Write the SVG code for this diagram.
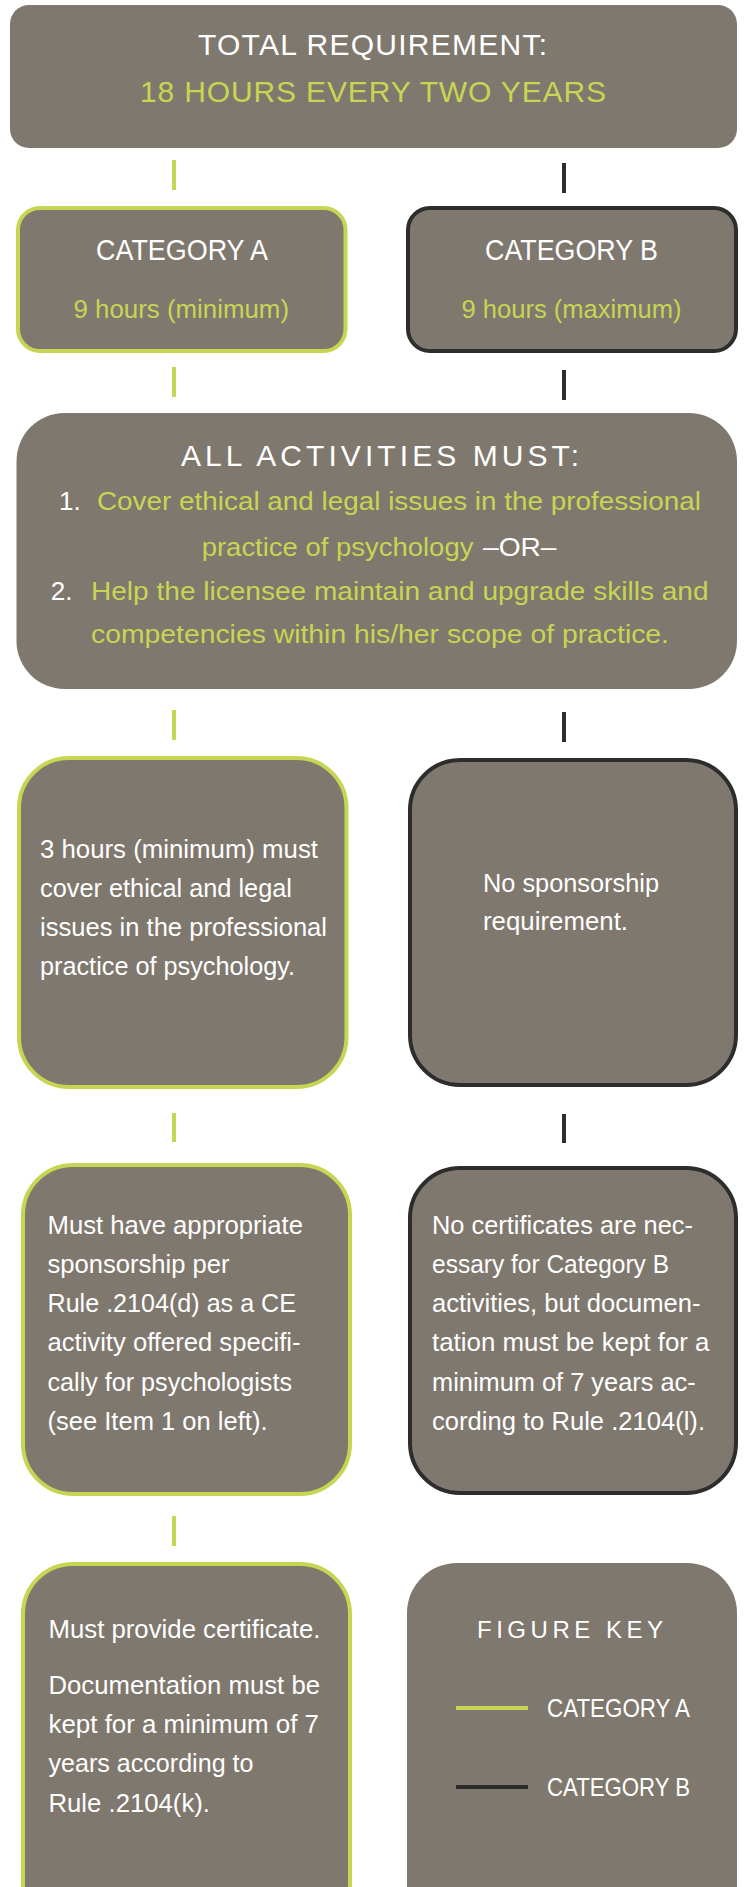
<svg xmlns="http://www.w3.org/2000/svg" width="744" height="1887" viewBox="0 0 744 1887">
<style>
.box{fill:#7f786e}
.ba{fill:#7f786e;stroke:#c6d653;stroke-width:4}
.bb{fill:#7f786e;stroke:#2d2d2d;stroke-width:4}
text{font-family:"Liberation Sans",Arial,sans-serif}
.h{font-size:30px;fill:#fff}
.hg{font-size:30px;fill:#c6d653}
.t{font-size:26px;fill:#fff}
.g{font-size:26px;fill:#c6d653}
.ca{stroke:#c6d653;stroke-width:4;fill:none}
.cb{stroke:#2d2d2d;stroke-width:4;fill:none}
</style>
<rect width="744" height="1887" fill="#fff"/>
<g id="connectors">
<line class="ca" x1="174" y1="160" x2="174" y2="190"/>
<line class="cb" x1="564" y1="163" x2="564" y2="193"/>
<line class="ca" x1="174" y1="367" x2="174" y2="397"/>
<line class="cb" x1="564" y1="370" x2="564" y2="400"/>
<line class="ca" x1="174" y1="710" x2="174" y2="740"/>
<line class="cb" x1="564" y1="712" x2="564" y2="742"/>
<line class="ca" x1="174" y1="1113" x2="174" y2="1142"/>
<line class="cb" x1="564" y1="1114" x2="564" y2="1143"/>
<line class="ca" x1="174" y1="1516" x2="174" y2="1546"/>
</g>
<g id="total">
<rect class="box" x="10" y="5" width="727" height="143" rx="19"/>
<text class="h" x="198" y="55" textLength="349">TOTAL REQUIREMENT:</text>
<text class="hg" x="140" y="102" textLength="466">18 HOURS EVERY TWO YEARS</text>
</g>
<g id="catA">
<rect class="ba" x="18" y="208" width="327.5" height="143" rx="22"/>
<text class="h" x="96" y="260" textLength="172" lengthAdjust="spacingAndGlyphs">CATEGORY A</text>
<text class="g" x="73.5" y="318" textLength="215.5" lengthAdjust="spacingAndGlyphs">9 hours (minimum)</text>
</g>
<g id="catB">
<rect class="bb" x="408" y="208" width="328" height="143" rx="22"/>
<text class="h" x="485" y="260" textLength="173" lengthAdjust="spacingAndGlyphs">CATEGORY B</text>
<text class="g" x="461.5" y="318" textLength="220" lengthAdjust="spacingAndGlyphs">9 hours (maximum)</text>
</g>
<g id="all">
<rect class="box" x="16.5" y="413" width="720.5" height="276" rx="48"/>
<text class="h" x="181" y="466" textLength="398">ALL ACTIVITIES MUST:</text>
<text class="t" x="59" y="510">1.</text>
<text class="g" x="97" y="510" textLength="604" lengthAdjust="spacingAndGlyphs">Cover ethical and legal issues in the professional</text>
<text class="g" x="201.7" y="556" textLength="271.7" lengthAdjust="spacingAndGlyphs">practice of psychology</text>
<text class="t" x="483" y="556" textLength="73.5" lengthAdjust="spacingAndGlyphs">–OR–</text>
<text class="t" x="50.7" y="600">2.</text>
<text class="g" x="91" y="600" textLength="617.5" lengthAdjust="spacingAndGlyphs">Help the licensee maintain and upgrade skills and</text>
<text class="g" x="91" y="643" textLength="578" lengthAdjust="spacingAndGlyphs">competencies within his/her scope of practice.</text>
</g>
<g id="a3">
<rect class="ba" x="19" y="758" width="327.5" height="329" rx="50"/>
<text class="t" x="40" y="858" textLength="278" lengthAdjust="spacingAndGlyphs">3 hours (minimum) must</text>
<text class="t" x="40" y="897" textLength="252" lengthAdjust="spacingAndGlyphs">cover ethical and legal</text>
<text class="t" x="40" y="936" textLength="287" lengthAdjust="spacingAndGlyphs">issues in the professional</text>
<text class="t" x="40" y="975" textLength="255" lengthAdjust="spacingAndGlyphs">practice of psychology.</text>
</g>
<g id="b3">
<rect class="bb" x="410" y="760" width="326" height="325" rx="50"/>
<text class="t" x="483" y="892" textLength="176" lengthAdjust="spacingAndGlyphs">No sponsorship</text>
<text class="t" x="483" y="930" textLength="145" lengthAdjust="spacingAndGlyphs">requirement.</text>
</g>
<g id="a4">
<rect class="ba" x="23" y="1165" width="327" height="329" rx="50"/>
<text class="t" x="47.5" y="1234" textLength="255.5" lengthAdjust="spacingAndGlyphs">Must have appropriate</text>
<text class="t" x="47.5" y="1273" textLength="182" lengthAdjust="spacingAndGlyphs">sponsorship per</text>
<text class="t" x="47.5" y="1312" textLength="248.5" lengthAdjust="spacingAndGlyphs">Rule .2104(d) as a CE</text>
<text class="t" x="47.5" y="1351" textLength="253" lengthAdjust="spacingAndGlyphs">activity offered specifi-</text>
<text class="t" x="47.5" y="1391" textLength="244.5" lengthAdjust="spacingAndGlyphs">cally for psychologists</text>
<text class="t" x="47.5" y="1430" textLength="220" lengthAdjust="spacingAndGlyphs">(see Item 1 on left).</text>
</g>
<g id="b4">
<rect class="bb" x="410" y="1168" width="326" height="325" rx="50"/>
<text class="t" x="432" y="1234" textLength="261" lengthAdjust="spacingAndGlyphs">No certificates are nec-</text>
<text class="t" x="432" y="1273" textLength="237" lengthAdjust="spacingAndGlyphs">essary for Category B</text>
<text class="t" x="432" y="1312" textLength="268.5" lengthAdjust="spacingAndGlyphs">activities, but documen-</text>
<text class="t" x="432" y="1351" textLength="277.5" lengthAdjust="spacingAndGlyphs">tation must be kept for a</text>
<text class="t" x="432" y="1391" textLength="263.7" lengthAdjust="spacingAndGlyphs">minimum of 7 years ac-</text>
<text class="t" x="432" y="1430" textLength="273" lengthAdjust="spacingAndGlyphs">cording to Rule .2104(l).</text>
</g>
<g id="a5">
<rect class="ba" x="23" y="1564" width="327" height="370" rx="50"/>
<text class="t" x="48.5" y="1638" textLength="272" lengthAdjust="spacingAndGlyphs">Must provide certificate.</text>
<text class="t" x="48.5" y="1694" textLength="271.5" lengthAdjust="spacingAndGlyphs">Documentation must be</text>
<text class="t" x="48.5" y="1733" textLength="270.5" lengthAdjust="spacingAndGlyphs">kept for a minimum of 7</text>
<text class="t" x="48.5" y="1772" textLength="205" lengthAdjust="spacingAndGlyphs">years according to</text>
<text class="t" x="48.5" y="1812" textLength="161.5" lengthAdjust="spacingAndGlyphs">Rule .2104(k).</text>
</g>
<g id="key">
<rect class="box" x="407" y="1563" width="330" height="372" rx="50"/>
<text class="t" x="477" y="1638" style="font-size:24px" textLength="186">FIGURE KEY</text>
<line class="ca" x1="456" y1="1708" x2="528" y2="1708"/>
<text class="t" x="547" y="1717" textLength="143" lengthAdjust="spacingAndGlyphs">CATEGORY A</text>
<line class="cb" x1="456" y1="1787" x2="528" y2="1787"/>
<text class="t" x="547" y="1796" textLength="143" lengthAdjust="spacingAndGlyphs">CATEGORY B</text>
</g>
</svg>
